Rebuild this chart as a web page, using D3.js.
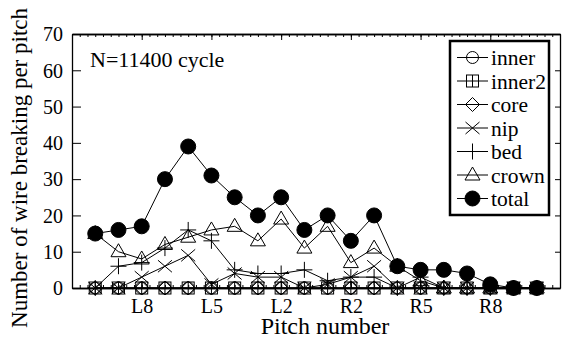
<!DOCTYPE html>
<html><head><meta charset="utf-8">
<script src="https://cdnjs.cloudflare.com/ajax/libs/d3/7.8.5/d3.min.js"></script>
<style>
html,body{margin:0;padding:0;background:#fff;}
</style></head>
<body><svg id="c" width="566" height="338"></svg>
<script>
const pitches = ["L10","L9","L8","L7","L6","L5","L4","L3","L2","L1","R1","R2","R3","R4","R5","R6","R7","R8","R9","R10"];
const tickLabels = ["L8","L5","L2","R2","R5","R8"];
const yTicks = [0,10,20,30,40,50,60,70];
const inner  = [0,0,0,0,0,0,0,0,0,0, 0,0,0,0,0,0,0,0,0,0];
const inner2 = [0,0,0,0,0,0,0,0,0,0, 0,0,0,0,0,0,0,0,0,0];
const core   = [0,0,0,0,0,0,0,0,0,0, 0,0,0,0,0,0,0,0,0,0];
const nip    = [0,0,3,6,9,1,4,3,3,0, 1,3,6,0,0,0,0,0,0,0];
const bed    = [0,6,7,11,16,13,5,4,4,5, 2,3,3,0,3,0,0,0,0,0];
const crown  = [15,10,8,12,14,16,17,13,19,11, 17,7,11,6,2,0,0,0,0,0];
const total  = [15,16,17,30,39,31,25,20,25,16, 20,13,20,6,5,5,4,1,0,0];
const seriesNames = ["inner","inner2","core","nip","bed","crown","total"];
const seriesData = [inner,inner2,core,nip,bed,crown,total];

const FONT = '"Liberation Serif","Times New Roman",Times,"DejaVu Serif",serif';
const svg = d3.select("#c");
const L = 72, R = 560, T = 34, B = 288;
const x = d3.scaleLinear().domain([0, pitches.length + 1]).range([L, R]);
const y = d3.scaleLinear().domain([0, 70]).range([B, T]);

function marker(g, name, cx, cy) {
  const s = g.append("g").attr("transform", `translate(${cx},${cy})`)
    .attr("fill", "none").attr("stroke", "#000").attr("stroke-width", 1);
  if (name === "inner") s.append("circle").attr("r", 6);
  else if (name === "inner2") {
    s.append("rect").attr("x", -6).attr("y", -6).attr("width", 12).attr("height", 12);
    s.append("line").attr("x1", 0).attr("x2", 0).attr("y1", -6).attr("y2", 6);
  }
  else if (name === "core") s.append("path").attr("d", "M0,-7L7,0L0,7L-7,0Z");
  else if (name === "nip") s.append("path").attr("d", "M-7,-6L7,6M-7,6L7,-6");
  else if (name === "bed") s.append("path").attr("d", "M-8,0L8,0M0,-8L0,8");
  else if (name === "crown") s.append("path").attr("d", "M0,-8L7.5,5L-7.5,5Z");
  else if (name === "total") s.append("circle").attr("r", 7.5).attr("fill", "#000");
}

const minor = d3.range(0, (pitches.length + 1) * 3 + 1).map(d => d / 3);
function styleAxis(g) {
  g.attr("font-family", FONT);
  g.select(".domain").attr("stroke", "#000").attr("stroke-width", 1.3);
  g.selectAll(".tick line").attr("stroke", "#000").attr("stroke-width", 1);
}
svg.append("g").attr("transform", `translate(0,${B})`)
  .call(d3.axisBottom(x).tickValues(minor).tickSize(-3).tickFormat("").tickSizeOuter(0)).call(styleAxis);
svg.append("g").attr("transform", `translate(0,${T})`)
  .call(d3.axisTop(x).tickValues(minor).tickSize(-3).tickFormat("").tickSizeOuter(0)).call(styleAxis);
const labelIdx = tickLabels.map(t => pitches.indexOf(t) + 1);
const bx = svg.append("g").attr("transform", `translate(0,${B})`)
  .call(d3.axisBottom(x).tickValues(labelIdx).tickSize(-6).tickSizeOuter(0)
    .tickFormat((d, i) => tickLabels[i])).call(styleAxis);
bx.selectAll(".tick text").attr("y", 25).attr("dy", 0).attr("font-size", 20).attr("font-family", FONT).attr("fill", "#000");
svg.append("g").attr("transform", `translate(0,${T})`)
  .call(d3.axisTop(x).tickValues(labelIdx).tickSize(-6).tickFormat("").tickSizeOuter(0)).call(styleAxis);
const ly = svg.append("g").attr("transform", `translate(${L},0)`)
  .call(d3.axisLeft(y).tickValues(yTicks).tickSize(-9).tickSizeOuter(0)).call(styleAxis);
ly.selectAll(".tick text").attr("x", -9).attr("dy", "0.34em").attr("font-size", 20).attr("font-family", FONT).attr("fill", "#000");
svg.append("g").attr("transform", `translate(${R},0)`)
  .call(d3.axisRight(y).tickValues(yTicks).tickSize(-5).tickFormat("").tickSizeOuter(0)).call(styleAxis);

const line = d3.line().x((d, i) => x(i + 1)).y(d => y(d));
const plot = svg.append("g");
seriesData.forEach(arr => {
  plot.append("path").datum(arr).attr("d", line).attr("fill", "none")
    .attr("stroke", "#000").attr("stroke-width", 1);
});
seriesData.forEach((arr, k) => {
  arr.forEach((v, i) => marker(plot, seriesNames[k], x(i + 1), y(v)));
});

function txt(xp, yp, s, size, anchor) {
  return svg.append("text").attr("x", xp).attr("y", yp).attr("font-family", FONT)
    .attr("font-size", size).attr("text-anchor", anchor || "start").attr("fill", "#000").text(s);
}
txt(90, 67, "N=11400 cycle", 22);
txt(325, 334, "Pitch number", 24, "middle");
svg.append("text").attr("transform", "translate(27,168) rotate(-90)").attr("text-anchor", "middle")
  .attr("font-family", FONT).attr("font-size", 23).text("Number of wire breaking per pitch");

const lg = svg.append("g");
lg.append("rect").attr("x", 450).attr("y", 41).attr("width", 99).attr("height", 174)
  .attr("fill", "#fff").attr("stroke", "#000").attr("stroke-width", 2.5);
seriesNames.forEach((n, k) => {
  const cy = 57.5 + k * 23.5;
  lg.append("line").attr("x1", 457).attr("x2", 488).attr("y1", cy).attr("y2", cy)
    .attr("stroke", "#000").attr("stroke-width", 1);
  marker(lg, n, 472.5, cy);
  lg.append("text").attr("x", 491).attr("y", cy + 7.5).attr("font-family", FONT)
    .attr("font-size", 21.5).text(n);
});
</script></body></html>
